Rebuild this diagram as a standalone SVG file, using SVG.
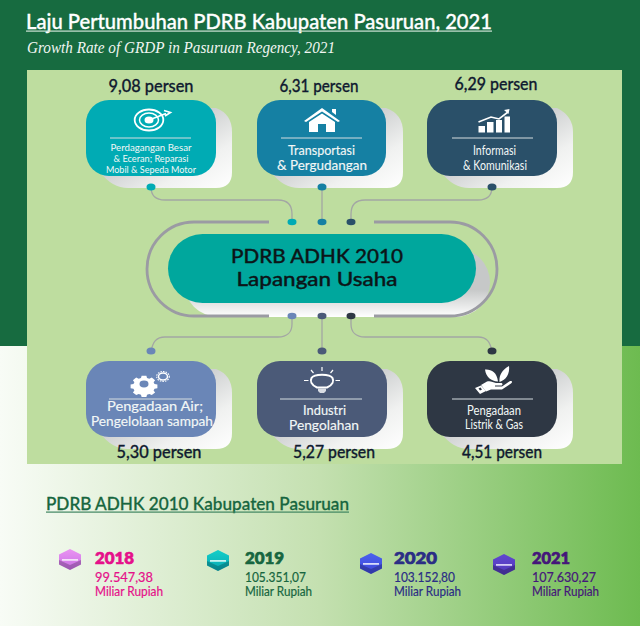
<svg xmlns="http://www.w3.org/2000/svg" width="640" height="626" viewBox="0 0 640 626">
<defs>
<linearGradient id="bg" x1="0" x2="1" y1="0" y2="0"><stop offset="0" stop-color="#f8fcf6"/><stop offset="0.5" stop-color="#c4e0b0"/><stop offset="1" stop-color="#6dbb50"/></linearGradient>
<linearGradient id="sh" x1="0" x2="1" y1="0" y2="1"><stop offset="0.38" stop-color="#c9cbcc"/><stop offset="0.72" stop-color="#f0f1f0"/><stop offset="1" stop-color="#ffffff"/></linearGradient>
<linearGradient id="shp" x1="0" x2="0" y1="0" y2="1"><stop offset="0.6" stop-color="#c6c8c8"/><stop offset="1" stop-color="#ffffff"/></linearGradient>
<linearGradient id="hA" x1="0" x2="0" y1="0" y2="1"><stop offset="0" stop-color="#ea94f2"/><stop offset="1" stop-color="#c870e4"/></linearGradient>
<linearGradient id="hB" x1="0" x2="0" y1="0" y2="1"><stop offset="0" stop-color="#12cfc8"/><stop offset="1" stop-color="#0aa8b4"/></linearGradient>
<linearGradient id="hC" x1="0" x2="0" y1="0" y2="1"><stop offset="0" stop-color="#4a62ee"/><stop offset="1" stop-color="#3f46d8"/></linearGradient>
<linearGradient id="hD" x1="0" x2="0" y1="0" y2="1"><stop offset="0" stop-color="#6048d0"/><stop offset="1" stop-color="#5238b8"/></linearGradient>
<path id="hex" d="M11 0 L22 5.500 V15.500 L11 21 L0 15.500 V5.500 Z"/>
<path id="hexlow" d="M0 11 L11 16 L22 11 V15.500 L11 21 L0 15.500 Z" fill="#000" fill-opacity=".22"/>
<path id="gear" d="M-2.500 -11h5l.7 3 2.400 1 2.600-1.600 3.500 3.500-1.600 2.600 1 2.400 3 .7v5l-3 .7-1 2.400 1.600 2.600-3.500 3.500-2.600-1.600-2.400 1-.7 3h-5l-.7-3-2.400-1-2.600 1.600-3.500-3.500 1.600-2.600-1-2.400-3-.7v-5l3-.7 1-2.400-1.600-2.600 3.500-3.500 2.600 1.600 2.400-1z" fill="#fff"/>
</defs>
<style>
.q{font-family:"Lato","Noto Sans","Liberation Sans",sans-serif}
.p{font-family:"Lato","Noto Sans",sans-serif;font-size:16.5px;font-weight:500;fill:#101a30;stroke:#101a30;stroke-width:.3;text-anchor:middle}
.c{font-family:"Lato","Noto Sans",sans-serif;fill:#f2f7f6;text-anchor:middle}
.y{font-family:"Lato","Noto Sans",sans-serif;font-size:16px;font-weight:900;stroke-width:.7}
.v{font-family:"Lato","Noto Sans",sans-serif;font-size:13.5px;stroke-width:.2}
.m{font-family:"Lato","Noto Sans",sans-serif;font-size:12.5px;stroke-width:.2}
.ln{fill:none;stroke:#a3a6a4;stroke-width:1.3}
.div{stroke:#d5dde0;stroke-width:1}
.ic{fill:#fff}
.ics{fill:none;stroke:#fff}
</style>
<rect width="640" height="346" fill="#176b40"/>
<rect y="346" width="640" height="280" fill="url(#bg)"/>
<rect x="27" y="70" width="595" height="394" fill="#bedd9f"/>

<g id="title">
<text class="q" x="26" y="29" font-size="22" font-weight="500" fill="#fff" stroke="#fff" stroke-width=".35" textLength="466" lengthAdjust="spacingAndGlyphs">Laju Pertumbuhan PDRB Kabupaten Pasuruan, 2021</text>
<rect x="26" y="30.500" width="466" height="1.200" fill="#cfe3d6"/>
<text x="27" y="53" font-family="Liberation Serif,serif" font-style="italic" font-size="17" fill="#f1f6f2" textLength="308" lengthAdjust="spacingAndGlyphs">Growth Rate of GRDP in Pasuruan Regency, 2021</text>
</g>

<g id="connectors">
<path class="ln" d="M151 187 C151 196 156 200 165 200 H278 C287 200 292 205 292 214 V222"/>
<path class="ln" d="M322 187 V222"/>
<path class="ln" d="M492 187 C492 196 487 200 478 200 H365 C356 200 351 205 351 214 V222"/>
<path class="ln" d="M292 316 V324 C292 332 287 337 278 337 H165 C156 337 153 342 151 351"/>
<path class="ln" d="M322 316 V351"/>
<path class="ln" d="M351 316 V324 C351 332 356 337 365 337 H478 C487 337 490 342 492 351"/>
</g>

<g id="hub">
<rect x="184" y="248" width="306" height="69" rx="34.500" fill="url(#shp)"/>
<path d="M269 222 H194 A47 47 0 0 0 194 316 H269 M374 222 H450 A47 47 0 0 1 450 316 H374" fill="none" stroke="#9b9ba3" stroke-width="2.800"/>
<rect x="168" y="234" width="308" height="69" rx="34.500" fill="#00a79d"/>
<text class="q" x="317" y="263" text-anchor="middle" font-size="19.500" font-weight="500" fill="#0c1518" stroke="#0c1518" stroke-width=".35" textLength="172" lengthAdjust="spacingAndGlyphs">PDRB ADHK 2010</text>
<text class="q" x="317" y="286" text-anchor="middle" font-size="19.500" font-weight="500" fill="#0c1518" stroke="#0c1518" stroke-width=".35" textLength="161" lengthAdjust="spacingAndGlyphs">Lapangan Usaha</text>
<ellipse cx="292" cy="222" rx="4.500" ry="3.200" fill="#00abb4"/>
<ellipse cx="322" cy="222" rx="4.500" ry="3.200" fill="#1580a3"/>
<ellipse cx="351" cy="222" rx="4.500" ry="3.200" fill="#2a5069"/>
<ellipse cx="292" cy="316" rx="4.500" ry="3.200" fill="#6a86b7"/>
<ellipse cx="322" cy="316" rx="4.500" ry="3.200" fill="#4b5a78"/>
<ellipse cx="351" cy="316" rx="4.500" ry="3.200" fill="#2e3744"/>
</g>

<g id="node-perdagangan">
<text class="p" x="151" y="92" textLength="85" lengthAdjust="spacingAndGlyphs">9,08 persen</text>
<path d="M200 108 H216 Q232 114 232 132 V172 Q232 188 216 188 H128 Q112 188 100 172 Z" fill="url(#sh)"/>
<rect x="86" y="100" width="130" height="76" rx="23" fill="#00abb4"/>
<ellipse cx="149" cy="120" rx="14.300" ry="10.500" class="ics" stroke-width="1.800"/><ellipse cx="149" cy="120" rx="9.500" ry="7" class="ics" stroke-width="1.500"/><ellipse cx="149" cy="120" rx="4.500" ry="3.500" class="ic"/>
<path d="M149 120 L166 113.500 M164 110.500 L170.500 112.500 L165 116" class="ics" stroke-width="1.600"/>
<line class="div" x1="110" y1="138" x2="191" y2="138"/>
<text class="c" x="151" y="151" font-size="10" textLength="81" lengthAdjust="spacingAndGlyphs">Perdagangan Besar</text>
<text class="c" x="151" y="162" font-size="10" textLength="75" lengthAdjust="spacingAndGlyphs">&amp; Eceran; Reparasi</text>
<text class="c" x="151" y="173" font-size="10" textLength="90" lengthAdjust="spacingAndGlyphs">Mobil &amp; Sepeda Motor</text>
<ellipse cx="151" cy="187" rx="4.500" ry="3.500" fill="#00abb4"/>
</g>

<g id="node-transportasi">
<text class="p" x="319" y="92" textLength="79" lengthAdjust="spacingAndGlyphs">6,31 persen</text>
<path d="M371 108 H386 Q403 114 403 132 V172 Q403 188 387 188 H299 Q283 188 271 172 Z" fill="url(#sh)"/>
<rect x="257" y="100" width="129" height="76" rx="23" fill="#1580a3"/>
<path d="M304 121 L322 108 L340 121 L338 122 L322 111.500 L306 122 Z M309 122 L322 113.500 L335 122 V132 H326 V124 H318 V132 H309 Z M332 109 H336 V115 L332 112 Z" class="ic"/>
<line class="div" x1="281" y1="138" x2="362" y2="138"/>
<text class="c" x="321.500" y="155" font-size="13" stroke="#f2f7f6" stroke-width=".15" textLength="67" lengthAdjust="spacingAndGlyphs">Transportasi</text>
<text class="c" x="322" y="170" font-size="13" stroke="#f2f7f6" stroke-width=".15" textLength="90" lengthAdjust="spacingAndGlyphs">&amp; Pergudangan</text>
<ellipse cx="322" cy="187" rx="4.500" ry="3.500" fill="#1580a3"/>
</g>

<g id="node-informasi">
<text class="p" x="496" y="90" textLength="83" lengthAdjust="spacingAndGlyphs">6,29 persen</text>
<path d="M541 108 H557 Q573 116 573 132 V172 Q573 188 557 188 H469 Q453 188 441 172 Z" fill="url(#sh)"/>
<rect x="427" y="100" width="130" height="76" rx="23" fill="#2a5069"/>
<path d="M478.500 126 H485 V132.500 H478.500 Z M487 122 H493.500 V132.500 H487 Z M496 120 H502 V132.500 H496 Z M504.500 116.500 H510 V132.500 H504.500 Z" class="ic"/>
<path d="M478.500 122 L491 117 L499 119 L508 112" class="ics" stroke-width="1.600"/><path d="M504 110 L509.500 109 L508.500 114 Z" class="ic"/>
<line class="div" x1="452" y1="138" x2="533" y2="138"/>
<text class="c" x="494.500" y="155" font-size="12.500" textLength="43" lengthAdjust="spacingAndGlyphs">Informasi</text>
<text class="c" x="495" y="170" font-size="12.500" textLength="64" lengthAdjust="spacingAndGlyphs">&amp; Komunikasi</text>
<ellipse cx="492" cy="187" rx="4.500" ry="3.500" fill="#2a5069"/>
</g>

<g id="node-air">
<path d="M200 369 H216 Q232 375 232 393 V433 Q232 449 216 449 H128 Q112 449 100 433 Z" fill="url(#sh)"/>
<rect x="86" y="361" width="130" height="76" rx="23" fill="#6a86b7"/>
<use href="#gear" transform="translate(144 384) scale(.95 .75)"/>
<ellipse cx="144" cy="384" rx="4.500" ry="3.400" fill="#6a86b7"/>
<ellipse cx="163" cy="376.500" rx="4.500" ry="3.500" class="ics" stroke-width="1.500"/><ellipse cx="163" cy="376.500" rx="6.300" ry="5" class="ics" stroke-width="1.100" stroke-dasharray="1.500 1.100"/>
<line class="div" x1="109" y1="399" x2="192" y2="399"/>
<text class="c" x="155" y="411" font-size="12.500" stroke="#f2f7f6" stroke-width=".15" textLength="96" lengthAdjust="spacingAndGlyphs">Pengadaan Air;</text>
<text class="c" x="152" y="426" font-size="12.500" stroke="#f2f7f6" stroke-width=".15" textLength="122" lengthAdjust="spacingAndGlyphs">Pengelolaan sampah</text>
<ellipse cx="151" cy="351" rx="4.500" ry="3.500" fill="#6a86b7"/>
<text class="p" x="159" y="458" textLength="85" lengthAdjust="spacingAndGlyphs">5,30 persen</text>
</g>

<g id="node-industri">
<path d="M371 369 H387 Q403 375 403 393 V433 Q403 449 387 449 H299 Q283 449 271 433 Z" fill="url(#sh)"/>
<rect x="257" y="361" width="130" height="76" rx="23" fill="#4b5a78"/>
<path d="M317 387.500 C311 385 310 381 311.500 378 C314 373.500 330 373.500 332.500 378 C334 381 333 385 327 387.500 Z" class="ics" stroke-width="2"/>
<path d="M318 388.500 H326 V391 L324 393 H320 L318 391 Z" fill="#d9dde4"/>
<path d="M322 367 V371 M311 370 L313.500 373 M333 370 L330.500 373 M304 380.500 H308.500 M335.500 380.500 H340" class="ics" stroke-width="1.200"/>
<line class="div" x1="280" y1="399" x2="362" y2="399"/>
<text class="c" x="324.500" y="415" font-size="13" stroke="#f2f7f6" stroke-width=".15" textLength="43" lengthAdjust="spacingAndGlyphs">Industri</text>
<text class="c" x="324" y="430" font-size="13" stroke="#f2f7f6" stroke-width=".15" textLength="70" lengthAdjust="spacingAndGlyphs">Pengolahan</text>
<ellipse cx="322" cy="351" rx="4.500" ry="3.500" fill="#4b5a78"/>
<text class="p" x="334" y="458" textLength="82" lengthAdjust="spacingAndGlyphs">5,27 persen</text>
</g>

<g id="node-listrik">
<path d="M541 369 H557 Q573 375 573 393 V433 Q573 449 557 449 H469 Q453 449 441 433 Z" fill="url(#sh)"/>
<rect x="427" y="361" width="130" height="76" rx="23" fill="#2e3744"/>
<path d="M485 369.500 C491 369 497 372 498 381.500 C491 381 486 377 485 369.500 Z M509 366 C510 374 506 380 499.500 382 C499 375 502 370 509 366 Z" class="ic"/>
<path d="M481 385 L487 381.500 C490 380.500 493 382 496 383 H501 C503 383 503 385.500 501 385.500 H495 V386.500 H502 L510 381 C512.500 380.500 512.500 382.500 511 383.500 L502 389.500 H491 L486 391.500 Z" class="ic"/>
<path d="M475 388 L481 385.500 L486 391 L480 394 Z M478.500 388.500 L480 390.500 L482 389.500 L480.500 387.500 Z" class="ic" fill-rule="evenodd"/>
<line class="div" x1="452" y1="399" x2="533" y2="399"/>
<text class="c" x="494" y="415" font-size="12.500" textLength="54" lengthAdjust="spacingAndGlyphs">Pengadaan</text>
<text class="c" x="494" y="429" font-size="12.500" textLength="58" lengthAdjust="spacingAndGlyphs">Listrik &amp; Gas</text>
<ellipse cx="492" cy="351" rx="4.500" ry="3.500" fill="#2e3744"/>
<text class="p" x="502" y="458" textLength="80" lengthAdjust="spacingAndGlyphs">4,51 persen</text>
</g>

<g id="summary">
<text class="q" x="46" y="510" font-size="18" font-weight="500" fill="#17663f" stroke="#17663f" stroke-width=".3" textLength="303" lengthAdjust="spacingAndGlyphs">PDRB ADHK 2010 Kabupaten Pasuruan</text>
<rect x="46" y="511.500" width="303" height="1.200" fill="#3f8560"/>
</g>

<g id="year-2018">
<use href="#hex" x="59" y="549" fill="url(#hA)"/><use href="#hexlow" x="59" y="549"/><rect x="62" y="559" width="16" height="1.800" fill="#f3e0f8"/>
<text class="y" x="95" y="564" fill="#e5108a" stroke="#e5108a" textLength="39" lengthAdjust="spacingAndGlyphs">2018</text>
<text class="v" x="95" y="582" fill="#e5108a" stroke="#e5108a" textLength="58" lengthAdjust="spacingAndGlyphs">99.547,38</text>
<text class="m" x="95" y="596" fill="#e5108a" stroke="#e5108a" textLength="68" lengthAdjust="spacingAndGlyphs">Miliar Rupiah</text>
</g>
<g id="year-2019">
<use href="#hex" x="207" y="550" fill="url(#hB)"/><use href="#hexlow" x="207" y="550"/><rect x="210" y="560" width="16" height="1.800" fill="#c8f3f0"/>
<text class="y" x="245" y="564" fill="#17663f" stroke="#17663f" textLength="39" lengthAdjust="spacingAndGlyphs">2019</text>
<text class="v" x="245" y="582" fill="#17663f" stroke="#17663f" textLength="61" lengthAdjust="spacingAndGlyphs">105.351,07</text>
<text class="m" x="245" y="596" fill="#17663f" stroke="#17663f" textLength="67" lengthAdjust="spacingAndGlyphs">Miliar Rupiah</text>
</g>
<g id="year-2020">
<use href="#hex" x="360" y="553" fill="url(#hC)"/><use href="#hexlow" x="360" y="553"/><rect x="363" y="563" width="16" height="1.800" fill="#d8dcfa"/>
<text class="y" x="394" y="564" fill="#2b2d85" stroke="#2b2d85" textLength="43" lengthAdjust="spacingAndGlyphs">2020</text>
<text class="v" x="394" y="582" fill="#2b2d85" stroke="#2b2d85" textLength="61" lengthAdjust="spacingAndGlyphs">103.152,80</text>
<text class="m" x="394" y="596" fill="#2b2d85" stroke="#2b2d85" textLength="67" lengthAdjust="spacingAndGlyphs">Miliar Rupiah</text>
</g>
<g id="year-2021">
<use href="#hex" x="493" y="554" fill="url(#hD)"/><use href="#hexlow" x="493" y="554"/><rect x="496" y="564" width="16" height="1.800" fill="#d5cdf5"/>
<text class="y" x="532" y="564" fill="#45167a" stroke="#45167a" textLength="38" lengthAdjust="spacingAndGlyphs">2021</text>
<text class="v" x="532" y="582" fill="#45167a" stroke="#45167a" textLength="64" lengthAdjust="spacingAndGlyphs">107.630,27</text>
<text class="m" x="532" y="596" fill="#45167a" stroke="#45167a" textLength="67" lengthAdjust="spacingAndGlyphs">Miliar Rupiah</text>
</g>
</svg>
